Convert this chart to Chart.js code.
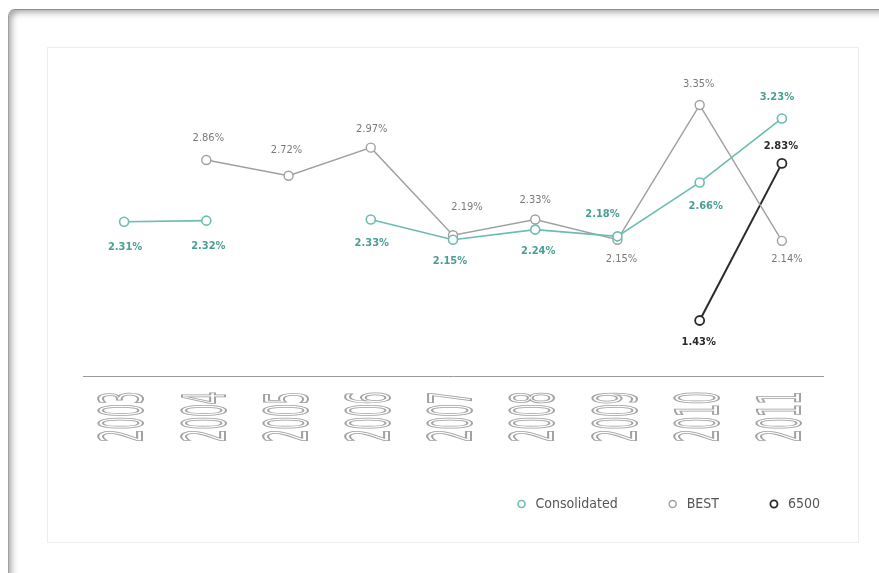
<!DOCTYPE html>
<html>
<head>
<meta charset="utf-8">
<title>Yield by year</title>
<script src="https://cdn.jsdelivr.net/npm/chart.js@4/dist/chart.umd.min.js"></script>
<style>
    html, body {
        margin: 0;
        padding: 0;
        background: #fff;
        width: 879px;
        height: 573px;
        overflow: hidden;
    }
    .frame {
        position: absolute;
        left: 8px;
        top: 9px;
        width: 900px;
        height: 600px;
        border-top: 1px solid #8c8c8c;
        border-left: 1px solid #a0a0a0;
        border-top-left-radius: 7px;
        box-shadow: inset 3px 3px 7px -1px rgba(0, 0, 0, 0.38);
    }
    .panel {
        position: absolute;
        left: 47px;
        top: 47px;
        width: 810px;
        height: 494px;
        border: 1px solid #eee;
        background: #fff;
    }
    .chart-box {
        position: absolute;
        left: 47px;
        top: 47px;
        width: 830px;
        height: 474px;
    }
</style>
</head>
<body>
<div class="frame"></div>
<div class="panel"></div>
<div class="chart-box"><canvas id="yieldChart"></canvas></div>

<script>
// 年度と各シリーズの値 (%)
const years = ['2003', '2004', '2005', '2006', '2007', '2008', '2009', '2010', '2011'];
const consolidated = [2.31, 2.32, null, 2.33, 2.15, 2.24, 2.18, 2.66, 3.23];
const best = [null, 2.86, 2.72, 2.97, 2.19, 2.33, 2.15, 3.35, 2.14];
const series6500 = [null, null, null, null, null, null, null, 1.43, 2.83];

// ラベルの表示位置 (点からのずれ)
const consolidatedLabelPos = [[1, 25], [2, 26], null, [1, 24], [-3, 21], [3, 22], [-15, -22], [6, 24], [-5, -21]];
const bestLabelPos = [null, [2, -22], [-2, -26], [1, -19], [14, -28], [0, -19], [4, 19], [-1, -21], [5, 18]];
const series6500LabelPos = [null, null, null, null, null, null, null, [-1, 22], [-1, -17]];

const TEAL = '#6cbcb2';
const TEAL_TEXT = '#4a9f95';
const GRAY = '#a0a0a0';
const GRAY_TEXT = '#7a7a7a';
const DARK = '#2a2a2a';

const labelStyles = [
    { pos: consolidatedLabelPos, color: TEAL_TEXT, weight: 'bold' },
    { pos: bestLabelPos, color: GRAY_TEXT, weight: 'normal' },
    { pos: series6500LabelPos, color: DARK, weight: 'bold' }
];

// 各点の値ラベルを描く
const valueLabels = {
    id: 'valueLabels',
    afterDatasetsDraw(chart) {
        const ctx = chart.ctx;
        ctx.save();
        ctx.textAlign = 'center';
        ctx.textBaseline = 'middle';
        chart.data.datasets.forEach((ds, i) => {
            const meta = chart.getDatasetMeta(i);
            const style = labelStyles[i];
            ctx.font = style.weight + ' 11px "DejaVu Sans Condensed", "DejaVu Sans", sans-serif';
            ctx.fillStyle = style.color;
            meta.data.forEach((pt, j) => {
                const v = ds.data[j];
                if (v === null || !style.pos[j]) return;
                ctx.fillText(v.toFixed(2) + '%', pt.x + style.pos[j][0], pt.y + style.pos[j][1]);
            });
        });
        ctx.restore();
    }
};

// 年のラベルを縦長の細い字 (中抜き) にする
const STRETCH = 2.7;
const tallTicks = {
    id: 'tallTicks',
    beforeDraw(chart) {
        const scale = chart.scales.x;
        if (scale._tall) return;
        const orig = scale.drawLabels;
        scale.drawLabels = function (area) {
            const ctx = this.ctx;
            const fill = ctx.fillText;
            ctx.fillText = function (text, x, y, w) {
                this.save();
                this.textBaseline = 'middle';
                this.scale(1, STRETCH);
                this.strokeStyle = '#a2a2a2';
                this.lineWidth = 0.75;
                this.strokeText(text, x, 16 / STRETCH);
                this.restore();
            };
            orig.call(this, area);
            delete ctx.fillText;
        };
        scale._tall = true;
    }
};

const ctx = document.getElementById('yieldChart').getContext('2d');

new Chart(ctx, {
    type: 'line',
    data: {
        labels: years,
        datasets: [
            {
                label: 'Consolidated',
                data: consolidated,
                borderColor: TEAL,
                backgroundColor: '#fff',
                pointBorderColor: TEAL,
                pointBackgroundColor: '#fff',
                borderWidth: 1.6,
                pointRadius: 4.5,
                pointBorderWidth: 1.6,
                spanGaps: false
            },
            {
                label: 'BEST',
                data: best,
                borderColor: GRAY,
                backgroundColor: '#fff',
                pointBorderColor: GRAY,
                pointBackgroundColor: '#fff',
                borderWidth: 1.4,
                pointRadius: 4.5,
                pointBorderWidth: 1.4
            },
            {
                label: '6500',
                data: series6500,
                borderColor: DARK,
                backgroundColor: '#fff',
                pointBorderColor: DARK,
                pointBackgroundColor: '#fff',
                borderWidth: 2,
                pointRadius: 4.5,
                pointBorderWidth: 1.8
            }
        ]
    },
    options: {
        responsive: true,
        maintainAspectRatio: false,
        animation: false,
        layout: {
            padding: { left: 36, top: 12, right: 9, bottom: 0 }
        },
        plugins: {
            tooltip: { enabled: false },
            legend: {
                position: 'bottom',
                align: 'end',
                labels: {
                    usePointStyle: true,
                    pointStyle: 'circle',
                    boxHeight: 5,
                    padding: 48,
                    color: '#555',
                    font: { family: '"DejaVu Sans Condensed", "DejaVu Sans", sans-serif', size: 14 }
                }
            }
        },
        scales: {
            x: {
                offset: true,
                grid: { display: false },
                border: { display: true, color: '#9a9a9a', width: 1 },
                ticks: {
                    autoSkip: false,
                    minRotation: 90,
                    maxRotation: 90,
                    padding: 7,
                    color: '#b4b4b4',
                    font: { family: '"DejaVu Sans Condensed", "DejaVu Sans", sans-serif', size: 22 }
                }
            },
            y: {
                position: 'right',
                min: 0.93,
                max: 3.76,
                grid: { display: false },
                border: { display: false },
                ticks: { display: false },
                afterFit(scale) {
                    scale.width = 45;
                }
            }
        }
    },
    plugins: [valueLabels, tallTicks]
});
</script>
</body>
</html>
